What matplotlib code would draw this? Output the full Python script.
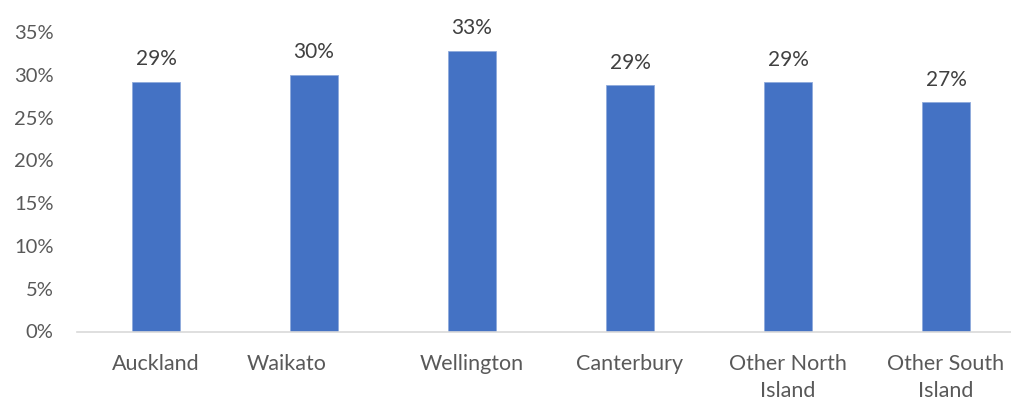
import numpy as np
import matplotlib.pyplot as plt
import matplotlib.transforms as mtransforms

# data
regions = ["Auckland", "Waikato", "Wellington", "Canterbury",
           "Other North\nIsland", "Other South\nIsland"]
shares = [29.2, 30.0, 32.8, 28.8, 29.1, 26.8]
y_ticks = [0, 5, 10, 15, 20, 25, 30, 35]

plt.rcParams['font.family'] = ['Lato', 'DejaVu Sans']

fig = plt.figure(figsize=(10.11, 4.01), dpi=100)
ax = fig.add_axes([77 / 1011, 69.5 / 401, 948 / 1011, 299.5 / 401])

x = np.arange(len(regions))
bars = ax.bar(x, shares, width=0.31, color="#4472C4", edgecolor="#8FAADC",
              linewidth=0.6)

for xi, v in zip(x, shares):
    ax.annotate(f"{round(v):.0f}%", (xi, v), xytext=(0, 9),
                textcoords="offset points", ha="center", va="bottom",
                fontsize=15, color="#404040")

ax.set_xlim(-0.5, 5.5)
ax.set_ylim(0, 35)
ax.set_yticks(y_ticks)
ax.set_yticklabels([f"{t}%" for t in y_ticks])
ax.set_xticks(x)
ax.set_xticklabels(regions, linespacing=1.45)

ax.tick_params(axis="y", length=0, pad=17, labelsize=14.5, labelcolor="#595959")
ax.tick_params(axis="x", length=0, pad=16, labelsize=15.5, labelcolor="#595959")

# Waikato label sits a bit left of its bar in the original
lab = ax.get_xticklabels()[1]
lab.set_transform(lab.get_transform() +
                  mtransforms.ScaledTranslation(-27 / 100, 0, fig.dpi_scale_trans))

for side in ["left", "right", "top"]:
    ax.spines[side].set_visible(False)
ax.spines["bottom"].set_color("#D9D9D9")
ax.spines["bottom"].set_linewidth(1.2)

fig.savefig("out.png", dpi=100)
